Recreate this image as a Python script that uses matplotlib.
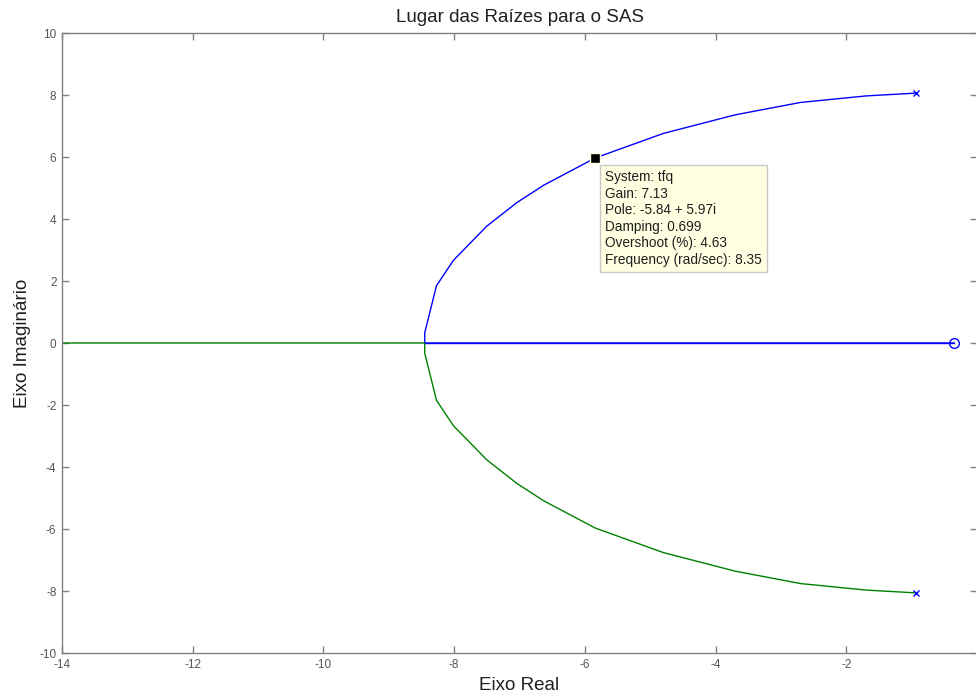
import matplotlib
matplotlib.use("Agg")
import matplotlib.pyplot as plt
import numpy as np

plt.rcParams['font.family'] = ['Liberation Sans', 'DejaVu Sans']

# Open-loop poles and zero of the SAS loop
pole_re = [-0.94, -0.94]
pole_im = [8.06, -8.06]
zero_re = [-0.35]
zero_im = [0.0]

# Complex branch (upper half), from the open-loop pole to the breakaway point
branch_re = [-0.94, -1.70, -2.70, -3.70, -4.80, -5.84, -6.63, -7.04, -7.50,
             -8.01, -8.27, -8.45, -8.45]
branch_im = [8.06, 7.97, 7.76, 7.36, 6.76, 5.97, 5.09, 4.53, 3.77,
             2.67, 1.85, 0.33, 0.0]

# Real-axis segments after the breakaway point
breakaway = -8.45
left_end = -14.0

# Selected closed-loop pole (data tip)
tip_gain = 7.13
tip_re = -5.84
tip_im = 5.97
tip_damping = 0.699
tip_overshoot = 4.63
tip_freq = 8.35

xticks = [-14, -12, -10, -8, -6, -4, -2]
yticks = [-10, -8, -6, -4, -2, 0, 2, 4, 6, 8, 10]

blue = '#0000FF'
green = '#008000'

fig = plt.figure(figsize=(9.76, 6.99), dpi=100)
ax = fig.add_axes([62 / 976, 46 / 699, 915 / 976, 620 / 699])

re = np.array(branch_re)
im = np.array(branch_im)

# Branch 1: upper pole -> breakaway -> along the real axis to the zero
ax.plot(np.concatenate([re, [zero_re[0]]]), np.concatenate([im, [0.0]]),
        color=blue, lw=1.0)
# Branch 2: lower pole -> breakaway -> along the real axis to -inf
ax.plot(np.concatenate([re, [left_end]]), np.concatenate([-im, [0.0]]),
        color=green, lw=1.0)
# redraw blue real-axis piece on top
ax.plot([breakaway, zero_re[0]], [0, 0], color=blue, lw=1.0)

ax.plot(pole_re, pole_im, linestyle='none', marker='x', color=blue,
        markersize=5, markeredgewidth=1.0)
ax.plot(zero_re, zero_im, linestyle='none', marker='o', color=blue,
        markerfacecolor='none', markersize=7, markeredgewidth=1.0)

# Data tip marker and text
ax.plot([tip_re], [tip_im], linestyle='none', marker='s', color='black',
        markersize=7, markeredgecolor='#FFFFE1', markeredgewidth=1.0, zorder=5)
tip_text = ("System: tfq\n"
            f"Gain: {tip_gain:.2f}\n"
            f"Pole: {tip_re:.2f} + {tip_im:.2f}i\n"
            f"Damping: {tip_damping:.3f}\n"
            f"Overshoot (%): {tip_overshoot:.2f}\n"
            f"Frequency (rad/sec): {tip_freq:.2f}")
ax.annotate(tip_text, xy=(tip_re, tip_im), xytext=(10, -12),
            textcoords='offset pixels', ha='left', va='top', fontsize=9.8,
            linespacing=1.24, color='#202020', zorder=6,
            bbox=dict(boxstyle='square,pad=0.38', facecolor='#FFFFE1',
                      edgecolor='#C8C8C8', linewidth=1.0))

ax.set_xlim(-14, 0)
ax.set_ylim(-10, 10)
ax.set_xticks(xticks)
ax.set_yticks(yticks)
ax.set_xticklabels([str(t) for t in xticks])
ax.set_yticklabels([str(t) for t in yticks])

ax.tick_params(direction='in', length=5, width=1.0, colors='#808080',
               labelcolor='#555555', labelsize=8.5, top=True, right=True,
               pad=4)
for s in ax.spines.values():
    s.set_color('#808080')
    s.set_linewidth(1.0)

ax.set_title('Lugar das Raízes para o SAS', fontsize=13.5, color='#202020', pad=8)
ax.set_xlabel('Eixo Real', fontsize=13.5, color='#202020', labelpad=5)
ax.set_ylabel('Eixo Imaginário', fontsize=13.5, color='#202020', labelpad=6)

fig.savefig('out.png', dpi=100, facecolor='white')
